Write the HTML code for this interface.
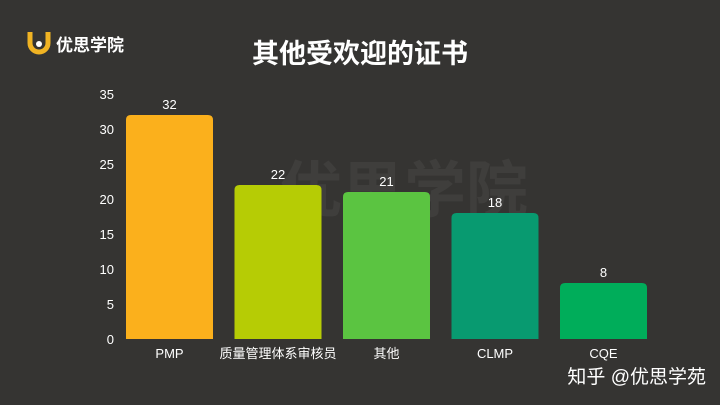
<!DOCTYPE html>
<html><head><meta charset="utf-8"><style>
body{margin:0;width:720px;height:405px;background:#353432;overflow:hidden;font-family:"Liberation Sans","Noto Sans CJK SC",sans-serif;color:#fff;position:relative}
.abs{position:absolute}
</style></head><body>
<div class="abs" style="left:27px;top:30px;display:flex;align-items:center">
<svg width="24" height="26" viewBox="0 0 24 26"><path d="M3 2 V13 A9 9 0 0 0 21 13 V2" fill="none" stroke="#f0b323" stroke-width="5"/><circle cx="12" cy="14" r="3" fill="#fff"/></svg>
<span style="font-size:17px;font-weight:bold;margin-left:5px">优思学院</span></div>
<div class="abs" style="left:0;width:720px;top:32px;text-align:center;font-size:27px;font-weight:bold">其他受欢迎的证书</div>
<div class="abs" style="left:280px;top:140px;font-size:62px;font-weight:bold;color:rgba(255,255,255,0.05)">优思学院</div>
<div class="abs" style="right:14px;top:362px;font-size:19px">知乎 @优思学苑</div>
<svg class="abs" style="left:0;top:0" width="720" height="405" id="chart"></svg>
<script>
const categories=["PMP","质量管理体系审核员","其他","CLMP","CQE"];
const values=[32,22,21,18,8];
const ticks=[0,5,10,15,20,25,30,35];
const colors=["#fbb01c","#b6cc05","#5bc441","#089a70","#00ad5a"];
const svg=document.getElementById('chart');const NS="http://www.w3.org/2000/svg";
const y=v=>339-v*7; const x=i=>126+i*108.5; const bw=87;
function el(t,a){const e=document.createElementNS(NS,t);for(const k in a)e.setAttribute(k,a[k]);svg.appendChild(e);return e;}
ticks.forEach(t=>{const e=el('text',{x:114,y:y(t)+5,'text-anchor':'end','font-size':13,fill:'#fff'});e.textContent=t;

});
values.forEach((v,i)=>{const h=339-y(v),r=5;
const p=el('path',{d:`M${x(i)} 339 V${y(v)+r} Q${x(i)} ${y(v)} ${x(i)+r} ${y(v)} H${x(i)+bw-r} Q${x(i)+bw} ${y(v)} ${x(i)+bw} ${y(v)+r} V339 Z`,fill:colors[i]});


const t=el('text',{x:x(i)+bw/2,y:y(v)-6,'text-anchor':'middle','font-size':13,fill:'#fff'});t.textContent=v;


const c=el('text',{x:x(i)+bw/2,y:358,'text-anchor':'middle','font-size':13,fill:'#fff'});c.textContent=categories[i];

});
</script>
</body></html>
